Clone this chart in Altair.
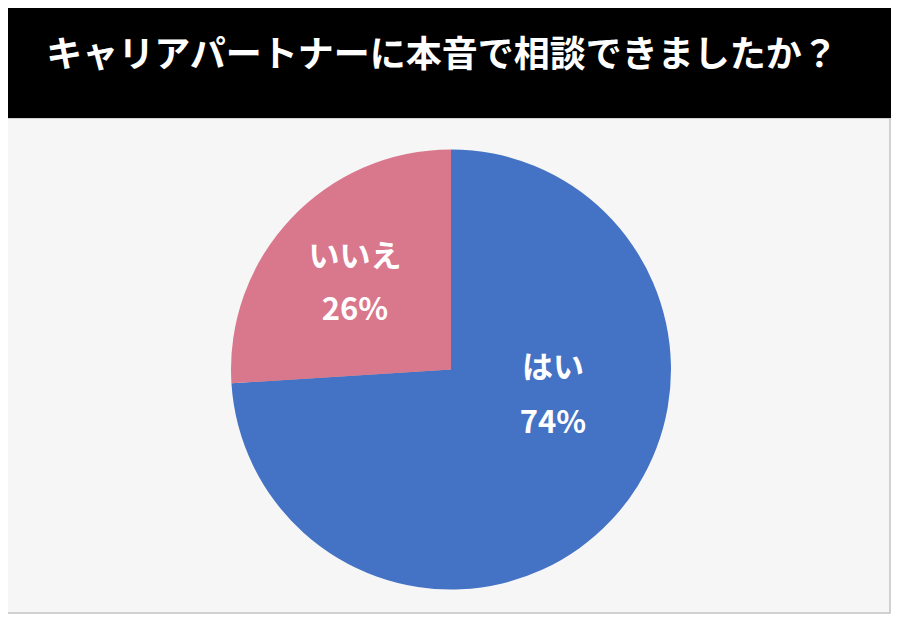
import math
import altair as alt
import pandas as pd

# ---- data ----
title_text = "キャリアパートナーに本音で相談できましたか？"
categories = ["はい", "いいえ"]
values = [74, 26]
order_idx = [0, 1]
colors = ["#4472C4", "#D9778D"]

W, H = 883, 606
CX, CY, R = 443, 361.5, 220
FONT = "Noto Sans CJK JP"

df = pd.DataFrame({"category": categories, "value": values, "order": order_idx})
one = pd.DataFrame({"k": [0]})

# title bar
bar = alt.Chart(one).mark_rect(color="#000000").encode(
    x=alt.value(0), x2=alt.value(W), y=alt.value(0), y2=alt.value(110)
)
title = alt.Chart(one).mark_text(
    text=title_text, font=FONT, fontSize=36, fontWeight="bold", color="white",
    align="center", baseline="middle"
).encode(x=alt.value(434), y=alt.value(48))

# border of plot panel
border = alt.Chart(one).mark_rect(fill="#f6f6f6", stroke="#c4c4c4", strokeWidth=1.5).encode(
    x=alt.value(-2), x2=alt.value(W - 1), y=alt.value(110), y2=alt.value(H - 1)
)

# soft shadow around pie
shadows = []
for r in [221, 223, 225, 227, 229, 231, 233]:
    shadows.append(
        alt.Chart(one).mark_circle(color="#000000", opacity=0.045).encode(
            x=alt.value(CX), y=alt.value(CY + 1), size=alt.value(math.pi * r * r)
        )
    )

pie = alt.Chart(df).mark_arc(outerRadius=R).encode(
    theta=alt.Theta("value:Q", stack=True),
    color=alt.Color("category:N", scale=alt.Scale(domain=categories, range=colors), legend=None),
    order=alt.Order("order:Q"),
    x=alt.value(CX), y=alt.value(CY),
)

def label(cat, x, y, lh):
    return alt.Chart(df).transform_filter(
        alt.datum.category == cat
    ).transform_calculate(
        label=alt.datum.category + "\n" + alt.datum.value + "%"
    ).mark_text(
        lineBreak="\n", lineHeight=lh, font=FONT, fontSize=31, fontWeight="bold",
        color="white", align="center", baseline="middle"
    ).encode(text="label:N", x=alt.value(x), y=alt.value(y))

lab_yes = label("はい", 545, 361, 55)
lab_no = label("いいえ", 347, 250, 53)

chart = alt.layer(border, bar, title, *shadows, pie, lab_yes, lab_no).properties(
    width=W, height=H, background="#ffffff", padding=0,
    autosize=alt.AutoSizeParams(type="none")
).configure_view(stroke=None)

chart.save("out.html", embed_options={"renderer": "svg", "actions": False})
